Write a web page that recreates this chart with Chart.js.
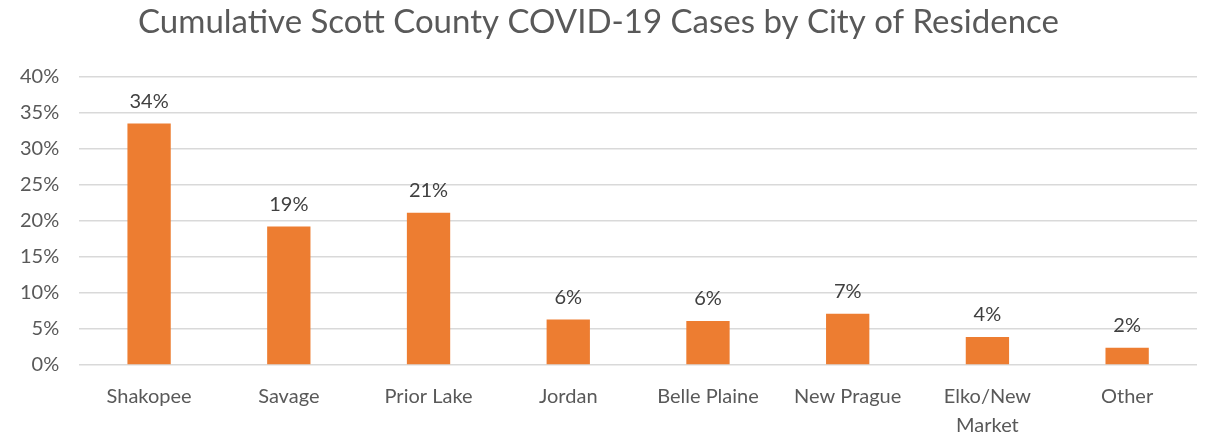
<!DOCTYPE html>
<html>
<head>
<meta charset="utf-8">
<script src="https://cdn.jsdelivr.net/npm/chart.js@4/dist/chart.umd.min.js"></script>
<style>
  html, body { margin: 0; padding: 0; background: #fff; }
  #wrap { width: 1221px; height: 440px; }
</style>
</head>
<body>
<div id="wrap"><canvas id="chart" width="1221" height="440"></canvas></div>
<script>
// data
const cities = ['Shakopee', 'Savage', 'Prior Lake', 'Jordan', 'Belle Plaine', 'New Prague', ['Elko/New', 'Market'], 'Other'];
const shares = [0.335, 0.192, 0.211, 0.063, 0.061, 0.071, 0.039, 0.024];
const yTicks = [0, 0.05, 0.10, 0.15, 0.20, 0.25, 0.30, 0.35, 0.40];

const txt = '#595959';
const fam = 'Lato, "Open Sans", sans-serif';

// value labels above each bar
const barLabels = {
    id: 'barLabels',
    afterDatasetsDraw(chart) {
        const ctx = chart.ctx;
        const meta = chart.getDatasetMeta(0);
        ctx.save();
        ctx.font = '20px ' + fam;
        ctx.fillStyle = '#404040';
        ctx.textAlign = 'center';
        ctx.textBaseline = 'bottom';
        meta.data.forEach((bar, i) => {
            ctx.fillText(Math.round(shares[i] * 100) + '%', bar.x, bar.y - 12);
        });
        ctx.restore();
    }
};

new Chart(document.getElementById('chart'), {
    type: 'bar',
    data: {
        labels: cities,
        datasets: [{
            data: shares,
            backgroundColor: '#ED7D31',
            categoryPercentage: 1,
            barPercentage: 0.31
        }]
    },
    options: {
        responsive: false,
        animation: false,
        layout: { padding: { left: 0, right: 24, top: 3, bottom: 0 } },
        plugins: {
            legend: { display: false },
            tooltip: { enabled: false },
            title: {
                display: true,
                text: 'Cumulative Scott County COVID-19 Cases by City of Residence',
                color: txt,
                font: { family: fam, size: 33, weight: 'normal' },
                padding: { top: 0, bottom: 34 }
            }
        },
        scales: {
            x: {
                grid: { display: false },
                border: { display: false },
                ticks: { color: txt, font: { family: fam, size: 20, lineHeight: 1.45 }, padding: 9, maxRotation: 0, autoSkip: false },
                afterFit(axis) { axis.height = 75; }
            },
            y: {
                min: 0,
                max: 0.4,
                afterBuildTicks(axis) { axis.ticks = yTicks.map(v => ({ value: v })); },
                grid: { color: '#d9d9d9', lineWidth: 1.5, drawTicks: false },
                border: { display: false },
                ticks: {
                    color: txt,
                    font: { family: fam, size: 20 },
                    padding: 20,
                    callback: v => Math.round(v * 100) + '%'
                }
            }
        }
    },
    plugins: [barLabels]
});
</script>
</body>
</html>
